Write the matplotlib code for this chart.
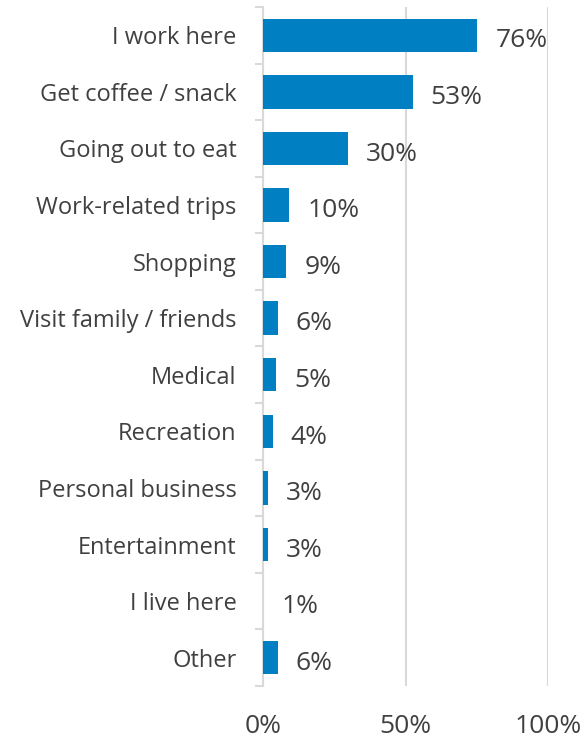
import matplotlib
matplotlib.use("Agg")
import matplotlib.pyplot as plt
import numpy as np

categories = ["I work here", "Get coffee / snack", "Going out to eat", "Work-related trips",
              "Shopping", "Visit family / friends", "Medical", "Recreation",
              "Personal business", "Entertainment", "I live here", "Other"]
values = [75.1, 52.5, 29.7, 9.2, 8.2, 5.1, 4.6, 3.4, 1.6, 1.6, 0.1, 5.2]
value_labels = ["76%", "53%", "30%", "10%", "9%", "6%", "5%", "4%", "3%", "3%", "1%", "6%"]
x_ticks = [0, 50, 100]
x_tick_labels = ["0%", "50%", "100%"]

plt.rcParams['font.family'] = ['Open Sans', 'DejaVu Sans']
text_color = "#404040"
grid_color = "#d9d9d9"
bar_color = "#0080c3"

fig = plt.figure(figsize=(5.85, 7.42), dpi=100)
ax = fig.add_axes([0.4496, 0.0755, 0.4877, 0.9151])

y = np.arange(len(categories))
ax.barh(y, values, height=0.59, color=bar_color, zorder=3)
for yi, v, lab in zip(y, values, value_labels):
    ax.text(v + 6.3, yi + 0.1, lab, va="center", ha="left", fontsize=19, color=text_color)

ax.set_ylim(len(categories) - 0.5, -0.5)
ax.set_xlim(0, 100)
ax.set_yticks(y)
ax.set_yticklabels(categories, fontsize=17, color=text_color)
ax.set_yticks(np.arange(-0.5, len(categories) + 0.5, 1), minor=True)
ax.tick_params(axis="y", which="major", length=0, pad=19)
ax.tick_params(axis="y", which="minor", length=6, color=grid_color, width=1.5)

ax.set_xticks(x_ticks)
ax.set_xticklabels(x_tick_labels, fontsize=19, color=text_color)
ax.tick_params(axis="x", length=0, pad=20)
ax.xaxis.grid(True, color=grid_color, linewidth=1.5, zorder=0)

for s in ["top", "right", "bottom"]:
    ax.spines[s].set_visible(False)
ax.spines["left"].set_color(grid_color)
ax.spines["left"].set_linewidth(1.5)

fig.savefig("out.png", dpi=100)
